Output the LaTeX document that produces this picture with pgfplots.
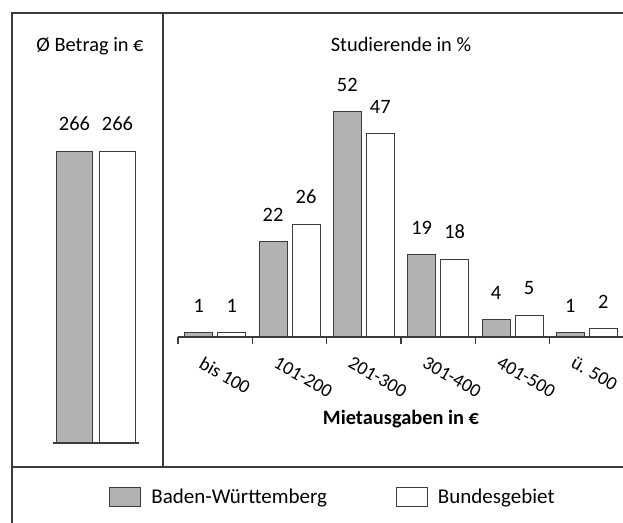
\documentclass[border=0pt]{standalone}
\usepackage{fontspec}
\setmainfont{Carlito}
\usepackage{pgfplots}
\pgfplotsset{compat=1.18}
\definecolor{barg}{RGB}{178,178,178}
\definecolor{edge}{RGB}{60,60,60}
\newcommand{\mainfont}{\fontsize{20.4bp}{24bp}\selectfont}
\newcommand{\legfont}{\fontsize{21bp}{24bp}\selectfont}
\newcommand{\tickfont}{\fontsize{19bp}{22bp}\selectfont}
\begin{document}
\begin{tikzpicture}[x=1bp,y=1bp,font=\mainfont]
\useasboundingbox (0,0) rectangle (623,523);
\draw[edge,line width=1.3bp] (12,0) -- (12,510) -- (623,510);
\draw[edge,line width=1.3bp] (163,510) -- (163,56);
\draw[edge,line width=1.3bp] (12,56) -- (623,56);

\node[anchor=base] at (90,471) {Ø Betrag in €};
\node[anchor=base] at (401,471) {Studierende in \%};
\node[anchor=base,font=\mainfont\bfseries] at (401,98) {Mietausgaben in €};

\begin{axis}[
  at={(53bp,80bp)}, anchor=south west,
  scale only axis, width=86bp, height=329.3bp,
  xmin=-1, xmax=1, ymin=0, ymax=300,
  ybar=7bp, bar width=36bp,
  axis x line=bottom, axis y line=none,
  axis line style={-,edge,line width=1.3bp},
  xtick=\empty, ytick=\empty,
  clip=false,
  /pgf/number format/assume math mode=true,
  nodes near coords,
  every node near coord/.append style={font=\mainfont, yshift=16.5bp, text=black},
]
\addplot[fill=barg, draw=edge, line width=1bp] coordinates {(0,266)};
\addplot[fill=white, draw=edge, line width=1bp] coordinates {(0,266)};
\end{axis}

\begin{axis}[
  at={(178bp,186bp)}, anchor=south west,
  scale only axis, width=446bp, height=259.8bp,
  xmin=-0.5, xmax=5.5, ymin=0, ymax=60,
  ybar=5bp, bar width=28bp,
  legend image code/.code={\draw[#1,line width=1bp] (0bp,-9.5bp) rectangle (31bp,9.5bp); \path (39bp,0bp);},
  axis x line=bottom, axis y line=none,
  axis line style={-,edge,line width=1.3bp},
  xtick={0,1,2,3,4,5},
  xticklabels={bis 100,101-200,201-300,301-400,401-500,ü. 500},
  minor xtick={-0.5,0.5,1.5,2.5,3.5,4.5,5.5},
  tick align=outside, major tick length=0pt, minor tick length=7bp,
  minor x tick style={edge,line width=1.3bp},
  ytick=\empty,
  xticklabel style={rotate=-30, anchor=north west, xshift=-3.3bp, yshift=-18.1bp, font=\tickfont},
  clip=false,
  /pgf/number format/assume math mode=true,
  nodes near coords,
  every node near coord/.append style={font=\mainfont, yshift=16.5bp, text=black},
  legend style={at={(0.3475,-0.616)}, anchor=center, draw=none, fill=none,
    font=\legfont, legend columns=2,
    /tikz/every even column/.append style={column sep=67bp}},
  legend cell align=left,
]
\addplot[fill=barg, draw=edge, line width=1bp] coordinates {(0,1) (1,22) (2,52) (3,19) (4,4) (5,1)};
\addlegendentry{Baden-Württemberg}
\addplot[fill=white, draw=edge, line width=1bp] coordinates {(0,1) (1,26) (2,47) (3,18) (4,5) (5,2)};
\addlegendentry{Bundesgebiet}
\end{axis}
\end{tikzpicture}
\end{document}
